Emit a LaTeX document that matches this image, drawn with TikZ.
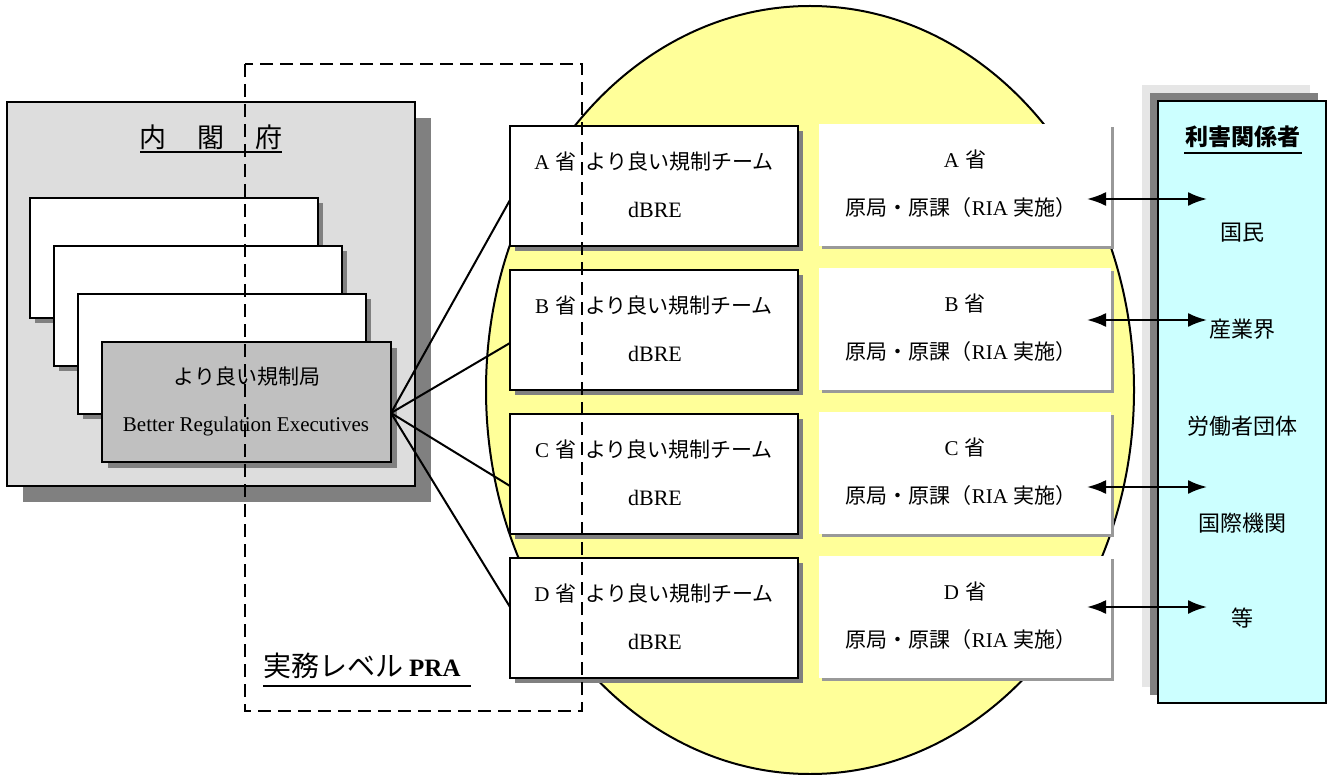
\documentclass[tikz,border=0pt]{standalone}
\usepackage{fontspec}
\setmainfont{Liberation Serif}
\newfontfamily\jp{Noto Sans CJK JP}
\usetikzlibrary{arrows.meta,shadows}
\definecolor{shgray}{HTML}{808080}
\definecolor{cabgray}{HTML}{DDDDDD}
\definecolor{bregray}{HTML}{C0C0C0}
\definecolor{yel}{HTML}{FFFF99}
\definecolor{cyanfill}{HTML}{CCFFFF}
\definecolor{edgegray}{HTML}{999999}
\definecolor{palegray}{HTML}{E6E6E6}
\newcommand{\fsz}[1]{\fontsize{#1}{#1}\selectfont}
\begin{document}
\begin{tikzpicture}[x=1pt,y=-1pt,
  bx/.style={draw, line width=2pt, fill=white, minimum width=288pt, minimum height=120pt, inner sep=0pt},
  shd/.style={drop shadow={shadow xshift=#1, shadow yshift=-#1, fill=shgray, opacity=1}},
  gbx/.style={fill=white, minimum width=292pt, minimum height=122pt, inner sep=0pt,
    drop shadow={shadow xshift=3pt, shadow yshift=-3pt, fill=edgegray, opacity=1}},
  jt/.style={inner sep=0pt, font=\jp\fsz{21pt}},
  lt/.style={inner sep=0pt, font=\rmfamily\fsz{21pt}},
  conn/.style={line width=2pt},
  dbl/.style={line width=2.2pt, {Latex[length=19pt,width=14pt]}-{Latex[length=19pt,width=14pt]}},
  ul/.style={line width=2pt}
]
\useasboundingbox (0,0) rectangle (1329,775);

% ellipse
\draw[fill=yel, line width=2pt] (810,390) ellipse [x radius=324pt, y radius=384pt];

% cabinet office
\node[bx, fill=cabgray, minimum width=408pt, minimum height=384pt, shd=16pt] (cab) at (211,294) {};
\node[inner sep=0pt, font=\jp\fsz{27pt}] (cabt) at (211,137) {内\hspace{31pt}閣\hspace{31pt}府};
\draw[ul] (140,152) -- (282,152);

\node[bx, shd=5pt] (s1) at (174,258) {};
\node[bx, shd=5pt] (s2) at (198,306) {};
\node[bx, shd=5pt] (s3) at (222,354) {};
\node[bx, fill=bregray, minimum width=289pt, shd=6pt] (bre) at (246.5,402) {};
\node[jt] (bre1) at (247,377) {より良い規制局};
\node[lt] (bre2) at (246,426) {Better Regulation Executives};

% fan lines
\coordinate (hub) at (391,413);
\coordinate (ea) at (510,200);
\coordinate (eb) at (510,343);
\coordinate (ec) at (510,486);
\coordinate (ed) at (510,607);
\draw[conn] (hub) -- (ea);
\draw[conn] (hub) -- (eb);
\draw[conn] (hub) -- (ec);
\draw[conn] (hub) -- (ed);

% ministry teams
\foreach \n/\L/\y in {a/A/186, b/B/330, c/C/474, d/D/618}{
  \node[bx, shd=5pt] (t\n) at (654,\y) {};
  \node[jt] (t\n1) at (654,\y-24) {{\rmfamily \L}\hspace{6pt}省\hspace{9pt}より良い規制チーム};
  \node[lt, font=\rmfamily\fsz{22pt}] (t\n2) at (655,\y+24) {dBRE};
}

% bureau boxes
\foreach \n/\L/\y in {a/A/185, b/B/329, c/C/473, d/D/617}{
  \node[gbx] (g\n) at (965,\y) {};
  \node[jt] (g\n1) at (965,\y-25) {{\rmfamily \L}\hspace{6pt}省};
  \node[jt] (g\n2) at (961,\y+23) {原局・原課（{\rmfamily RIA}\hspace{5pt}実施）};
}

% stakeholders
\fill[palegray] (1142,85) rectangle (1310,687);
\fill[shgray] (1150,93) rectangle (1318,695);
\node[draw, line width=2pt, fill=cyanfill, minimum width=168pt, minimum height=602pt, inner sep=0pt] (sh) at (1242,402) {};
\node[inner sep=0pt, font=\jp\bfseries\fsz{23pt}] (sht) at (1243,137) {利害関係者};
\draw[ul] (1184,153) -- (1302,153);
\node[jt, font=\jp\fsz{22pt}] (s1t) at (1242,233) {国民};
\node[jt, font=\jp\fsz{22pt}] (s2t) at (1242,329) {産業界};
\node[jt, font=\jp\fsz{22pt}] (s3t) at (1242,426) {労働者団体};
\node[jt, font=\jp\fsz{22pt}] (s4t) at (1242,523) {国際機関};
\node[jt, font=\jp\fsz{22pt}] (s5t) at (1242,618) {等};

% arrows
\foreach \y [count=\i] in {199,320,487,607}{
  \coordinate (al\i) at (1087,\y);
  \coordinate (ar\i) at (1207,\y);
  \draw[dbl] (al\i) -- (ar\i);
}

% dashed PRA frame
\draw[line width=2.8pt, dash pattern=on 13pt off 7pt] (245,64) rectangle (582,711);
\node[inner sep=0pt, anchor=base west] (pra) at (263,676) {{\jp\fsz{28pt}実務レベル}\hspace{6pt}{\rmfamily\bfseries\fsz{25pt}PRA}};
\draw[ul] (263,686) -- (471,686);
\end{tikzpicture}
\end{document}
